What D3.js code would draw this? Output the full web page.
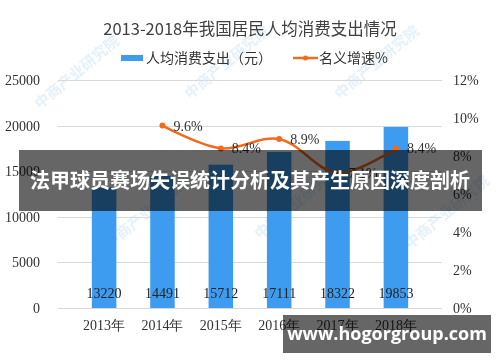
<!DOCTYPE html>
<html>
<head>
<meta charset="utf-8">
<script src="https://cdn.jsdelivr.net/npm/d3@7"></script>
<style>
  body { margin: 0; background: #fff; }
  svg { display: block; }
</style>
</head>
<body>
<svg id="chart" width="500" height="362"></svg>
<script>
// data
const years = ["2013年", "2014年", "2015年", "2016年", "2017年", "2018年"];
const spending = [13220, 14491, 15712, 17111, 18322, 19853];
const growthYears = ["2014年", "2015年", "2016年", "2017年", "2018年"];
const growth = [9.6, 8.4, 8.9, 7.1, 8.4];
const leftTicks = [0, 5000, 10000, 15000, 20000, 25000];
const rightTicks = [0, 2, 4, 6, 8, 10, 12];

const numFont = "'Liberation Serif', 'DejaVu Serif', serif";
const cjkFont = "'Noto Sans CJK SC', sans-serif";

var svg = d3.select("#chart");
var plotLeft = 58, plotRight = 442, plotTop = 80, plotBottom = 308;

// faint watermark
var wmSpots = [[40, 110], [190, 100], [340, 100], [110, 250], [260, 240], [410, 250]];
var wm = svg.append("g").attr("opacity", 0.16);
wmSpots.forEach(function(p) {
	wm.append("text")
		.attr("transform", "translate(" + p[0] + "," + p[1] + ") rotate(-40)")
		.attr("font-family", cjkFont)
		.attr("font-size", 15)
		.attr("font-weight", "bold")
		.attr("fill", "#5aa5dc")
		.text("中商产业研究院");
});

var x = d3.scaleBand().domain(years).range([plotLeft, plotRight]).padding(0.58);
var yL = d3.scaleLinear().domain([0, 25000]).range([plotBottom, plotTop]);
var yR = d3.scaleLinear().domain([0, 12]).range([plotBottom, plotTop]);

// title
svg.append("text")
	.attr("x", 250).attr("y", 35)
	.attr("text-anchor", "middle")
	.attr("font-family", cjkFont)
	.attr("font-size", 16.5)
	.attr("fill", "#404040")
	.text("2013-2018年我国居民人均消费支出情况");

// legend
var lg = svg.append("g").attr("font-family", cjkFont).attr("font-size", 14).attr("fill", "#333");
lg.append("rect").attr("x", 121).attr("y", 55).attr("width", 22).attr("height", 6).attr("fill", "#3d9cf0");
lg.append("text").attr("x", 146).attr("y", 63).text("人均消费支出（元）");
lg.append("line").attr("x1", 293).attr("x2", 318).attr("y1", 58).attr("y2", 58)
	.attr("stroke", "#f26b1d").attr("stroke-width", 2.5);
lg.append("circle").attr("cx", 305.5).attr("cy", 58).attr("r", 2.5).attr("fill", "#f26b1d");
lg.append("text").attr("x", 319).attr("y", 63).text("名义增速%");

// gridlines
svg.append("g")
	.selectAll("line")
	.data(leftTicks)
	.enter()
	.append("line")
	.attr("x1", plotLeft).attr("x2", plotRight)
	.attr("y1", function(d) { return Math.round(yL(d)) + 0.5; })
	.attr("y2", function(d) { return Math.round(yL(d)) + 0.5; })
	.attr("stroke", "#d9d9d9");

// left axis
var axL = svg.append("g")
	.attr("transform", "translate(40,0)")
	.call(d3.axisLeft(yL).tickValues(leftTicks).tickSize(0).tickPadding(0)
		.tickFormat(d3.format("d")));
axL.select(".domain").remove();
axL.selectAll("text").attr("font-family", numFont).attr("font-size", 14).attr("fill", "#333");

// right axis
var axR = svg.append("g")
	.attr("transform", "translate(453,0)")
	.call(d3.axisRight(yR).tickValues(rightTicks).tickSize(0).tickPadding(0)
		.tickFormat(function(d) { return d + "%"; }));
axR.select(".domain").remove();
axR.selectAll("text").attr("font-family", numFont).attr("font-size", 14).attr("fill", "#333");

// x axis labels
var axX = svg.append("g")
	.attr("transform", "translate(0," + plotBottom + ")")
	.call(d3.axisBottom(x).tickSize(0).tickPadding(12));
axX.select(".domain").remove();
axX.selectAll("text").attr("font-family", numFont).attr("font-size", 14).attr("fill", "#333");

// bars
svg.selectAll("rect.bar")
	.data(spending)
	.enter()
	.append("rect")
	.attr("class", "bar")
	.attr("x", function(d, i) { return x(years[i]); })
	.attr("y", function(d) { return yL(d); })
	.attr("width", x.bandwidth())
	.attr("height", function(d) { return plotBottom - yL(d); })
	.attr("fill", "#3d9cf0");

svg.selectAll("text.barlab")
	.data(spending)
	.enter()
	.append("text")
	.attr("class", "barlab")
	.attr("x", function(d, i) { return x(years[i]) + x.bandwidth() / 2; })
	.attr("y", 298)
	.attr("text-anchor", "middle")
	.attr("font-family", numFont)
	.attr("font-size", 14)
	.attr("fill", "#222")
	.text(function(d) { return d; });

// growth line
var cx = function(d, i) { return x(growthYears[i]) + x.bandwidth() / 2; };
var line = d3.line()
	.x(cx)
	.y(function(d) { return yR(d); })
	.curve(d3.curveCatmullRom.alpha(0.5));

svg.append("path")
	.datum(growth)
	.attr("d", line)
	.attr("fill", "none")
	.attr("stroke", "#f26b1d")
	.attr("stroke-width", 2.5);

svg.selectAll("circle.pt")
	.data(growth)
	.enter()
	.append("circle")
	.attr("class", "pt")
	.attr("cx", cx)
	.attr("cy", function(d) { return yR(d); })
	.attr("r", 3)
	.attr("fill", "#f26b1d");

svg.selectAll("text.ptlab")
	.data(growth)
	.enter()
	.append("text")
	.attr("class", "ptlab")
	.attr("x", function(d, i) { return cx(d, i) + 11; })
	.attr("y", function(d) { return yR(d) + 5; })
	.attr("font-family", numFont)
	.attr("font-size", 14)
	.attr("fill", "#333")
	.text(function(d) { return d.toFixed(1) + "%"; });

// overlay banners
svg.append("rect").attr("x", 19).attr("y", 150).attr("width", 463).attr("height", 61)
	.attr("fill", "#000").attr("fill-opacity", 0.6);
svg.append("text")
	.attr("x", 250).attr("y", 188)
	.attr("text-anchor", "middle")
	.attr("font-family", cjkFont)
	.attr("font-size", 20)
	.attr("font-weight", "bold")
	.attr("fill", "#fff")
	.text("法甲球员赛场失误统计分析及其产生原因深度剖析");

svg.append("rect").attr("x", 283).attr("y", 315).attr("width", 208).attr("height", 38)
	.attr("fill", "#000").attr("fill-opacity", 0.6);
svg.append("text")
	.attr("x", 387).attr("y", 340)
	.attr("text-anchor", "middle")
	.attr("font-family", "'Open Sans', 'DejaVu Sans', sans-serif")
	.attr("font-size", 18)
	.attr("font-weight", "bold")
	.attr("fill", "#fff")
	.text("www.hogorgroup.com");
</script>
</body>
</html>
